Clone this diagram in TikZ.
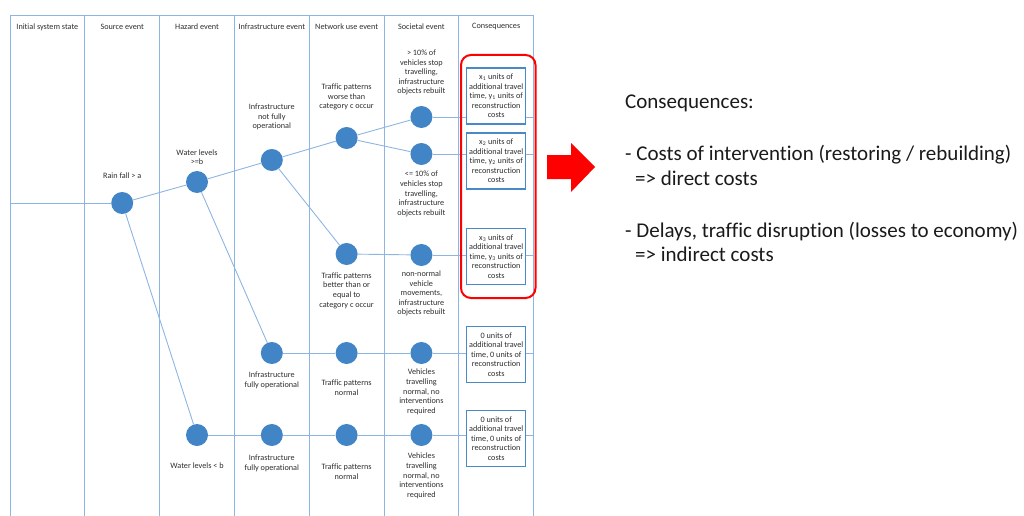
\documentclass[tikz,border=0pt]{standalone}
\usepackage{fontspec}
\setmainfont{Carlito}[Ligatures=NoCommon]
\usetikzlibrary{positioning,backgrounds}
\definecolor{gridblue}{HTML}{8DB5E2}
\definecolor{nodeblue}{HTML}{4285C7}
\definecolor{boxblue}{HTML}{4A89C8}
\definecolor{textdark}{HTML}{2E2E2E}
\definecolor{textblack}{HTML}{1A1A1A}
\definecolor{alertred}{HTML}{FF0000}

\begin{document}
\begin{tikzpicture}[
    x=1pt, y=-1pt,
    event/.style={circle, fill=nodeblue, minimum size=22pt, inner sep=0pt},
    cost/.style={draw=boxblue, line width=1.3pt, fill=white, minimum width=59pt, minimum height=56pt, inner sep=1pt, align=center, font=\fontsize{8.2}{9.6}\selectfont, text=textdark},
    note/.style={align=center, inner sep=0pt, font=\fontsize{8.2}{9.6}\selectfont, text=textdark},
    colline/.style={gridblue, line width=1pt},
    link/.style={gridblue, line width=0.9pt}
]
    \useasboundingbox (0,0) rectangle (1024,516);

    % columns of the event tree
    \foreach \t [count=\i] in {Initial system state, Source event, Hazard event, Infrastructure event, Network use event, Societal event, Consequences}
        \node[note] (head\i) at ({10+74.8*(\i-0.5)}, 27) {\t};
    \coordinate (start) at (10,203);
    \coordinate (rim) at (533.6,0);

    % events
    \node[event] (rain) at (122.2,203) {};
    \node[event] (wethi) at (197,182) {};
    \node[event] (wetlo) at (197,435) {};
    \node[event] (infdown) at (271.8,160) {};
    \node[event] (infup) at (271.8,353) {};
    \node[event] (infuplo) at (271.8,435) {};
    \node[event] (trfbad) at (346.6,138) {};
    \node[event] (trfok) at (346.6,254) {};
    \node[event] (trfnorm) at (346.6,353) {};
    \node[event] (trfnormlo) at (346.6,435) {};
    \node[event] (socstop) at (421.4,117) {};
    \node[event] (socfew) at (421.4,154) {};
    \node[event] (socmove) at (421.4,255) {};
    \node[event] (socnorm) at (421.4,353) {};
    \node[event] (socnormlo) at (421.4,435) {};

    % event labels
    \node[note] (rainlbl) at (122.2,176) {Rain fall > a};
    \node[note] (wethilbl) at (197,157) {Water levels\\>=b};
    \node[note] (wetlolbl) at (197,465.7) {Water levels < b};
    \node[note] (infdownlbl) at (271.8,117) {Infrastructure\\not fully\\operational};
    \node[note] (infuplbl) at (271.8,380.5) {Infrastructure\\fully operational};
    \node[note] (infuplolbl) at (271.8,463.3) {Infrastructure\\fully operational};
    \node[note] (trfbadlbl) at (346.6,97) {Traffic patterns\\worse than\\category c occur};
    \node[note] (trfoklbl) at (346.6,290.5) {Traffic patterns\\better than or\\equal to\\category c occur};
    \node[note] (trfnormlbl) at (346.6,387.5) {Traffic patterns\\normal};
    \node[note] (trfnormlolbl) at (346.6,471.5) {Traffic patterns\\normal};
    \node[note] (socstoplbl) at (421.4,72.5) {> 10\% of\\vehicles stop\\travelling,\\infrastructure\\objects rebuilt};
    \node[note] (socfewlbl) at (421.4,194) {<= 10\% of\\vehicles stop\\travelling,\\infrastructure\\objects rebuilt};
    \node[note] (socmovelbl) at (421.4,293.5) {non-normal\\vehicle\\movements,\\infrastructure\\objects rebuilt};
    \node[note] (socnormlbl) at (421.4,392) {Vehicles\\travelling\\normal, no\\interventions\\required};
    \node[note] (socnormlolbl) at (421.4,476) {Vehicles\\travelling\\normal, no\\interventions\\required};

    % consequences
    \node[cost] (cost1) at (496.2,96) {x\textsubscript{1} units of\\additional travel\\time, y\textsubscript{1} units of\\reconstruction\\costs};
    \node[cost] (cost2) at (496.2,161) {x\textsubscript{2} units of\\additional travel\\time, y\textsubscript{2} units of\\reconstruction\\costs};
    \node[cost] (cost3) at (496.2,256.5) {x\textsubscript{3} units of\\additional travel\\time, y\textsubscript{3} units of\\reconstruction\\costs};
    \node[cost] (cost4) at (496.2,354.5) {0 units of\\additional travel\\time, 0 units of\\reconstruction\\costs};
    \node[cost] (cost5) at (496.2,438.5) {0 units of\\additional travel\\time, 0 units of\\reconstruction\\costs};

    \begin{pgfonlayer}{background}
        \foreach \i in {0,...,7}
            \draw[colline] ({10+74.8*\i},16) -- ({10+74.8*\i},516);
        \draw[colline] (10,16) -- (533.6,16);

        \draw[link] (start) -- (rain);
        \draw[link] (rain) -- (wethi);
        \draw[link] (rain) -- (wetlo);
        \draw[link] (wethi) -- (infdown);
        \draw[link] (wethi) -- (infup);
        \draw[link] (infdown) -- (trfbad);
        \draw[link] (infdown) -- (trfok);
        \draw[link] (trfbad) -- (socstop);
        \draw[link] (trfbad) -- (socfew);
        \draw[link] (trfok) -- (socmove);
        \draw[link] (infup) -- (trfnorm) -- (socnorm);
        \draw[link] (wetlo) -- (infuplo) -- (trfnormlo) -- (socnormlo);
        \foreach \s in {socstop, socfew, socmove, socnorm, socnormlo}
            \draw[link] (\s) -- (\s -| rim);
    \end{pgfonlayer}

    % costs highlighted and explained
    \draw[alertred, line width=2pt, rounded corners=10pt] (461,55) rectangle (535.5,298);
    \fill[alertred] (547,155) -- (571,155) -- (571,143) -- (595,167) -- (571,192) -- (571,179) -- (547,179) -- cycle;
    \node[anchor=north west, inner sep=0pt, align=left, font=\fontsize{21}{24.5}\selectfont, text=textblack] (summary) at (625,95)
        {Consequences:\\[27.5pt]
         - Costs of intervention (restoring / rebuilding)\\
         \hspace*{10pt}=> direct costs\\[27.5pt]
         - Delays, traffic disruption (losses to economy)\\
         \hspace*{10pt}=> indirect costs};
\end{tikzpicture}
\end{document}
